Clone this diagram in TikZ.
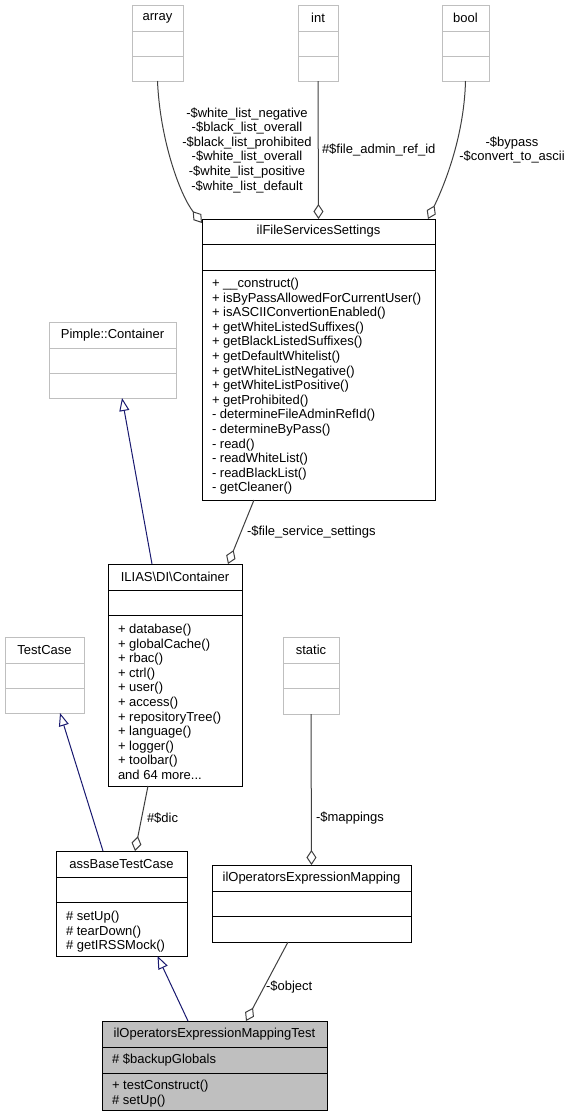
\documentclass[tikz,border=0pt]{standalone}
\usepackage{fontspec}
\setmainfont{Liberation Sans}
\usepackage{tikz}
\usetikzlibrary{arrows.meta}
\definecolor{grey75}{HTML}{BFBFBF}
\definecolor{grey25}{HTML}{404040}
\definecolor{midnightblue}{HTML}{191970}
\tikzset{%
  uml/.style = {
    x=1bp, y=-1bp, line width=1bp,
    font=\fontsize{13bp}{14.6bp}\selectfont,
    every node/.style = {inner sep=0pt, outer sep=0pt},
    cls/.style = {draw=black, rectangle, anchor=north west},
    extcls/.style = {cls, draw=grey75},
    curcls/.style = {cls, fill=grey75},
    members/.style = {anchor=north west, align=left},
    lbl/.style = {align=center},
    inherit/.style = {draw=midnightblue, -{Triangle[open, length=13bp, width=10bp]}},
    aggr/.style = {draw=grey25, -{Diamond[open, length=15bp, width=10bp]}}
  }
}

\begin{document}
\begin{tikzpicture}[uml]
\path[use as bounding box, fill=white] (0,0) rectangle (571,1117);

\node[extcls, minimum width=51bp, minimum height=76bp] (array) at (132,5) {};
\node (arrayname) at ([yshift=-13bp]array.north) {array};
\node[extcls, minimum width=40bp, minimum height=76bp] (int) at (298,5) {};
\node (intname) at ([yshift=-13bp]int.north) {int};
\node[extcls, minimum width=47bp, minimum height=76bp] (bool) at (442,5) {};
\node (boolname) at ([yshift=-13bp]bool.north) {bool};
\node[extcls, minimum width=127bp, minimum height=76bp] (pimple) at (49,322) {};
\node (pimplename) at ([yshift=-13bp]pimple.north) {Pimple::Container};
\node[extcls, minimum width=79bp, minimum height=76bp] (testcase) at (5,637) {};
\node (testcasename) at ([yshift=-13bp]testcase.north) {TestCase};
\node[extcls, minimum width=56bp, minimum height=77bp] (static) at (283,637) {};
\node (staticname) at ([yshift=-13bp]static.north) {static};
\foreach \n in {array, int, bool, pimple, testcase, static} {
  \draw[grey75] ([yshift=-26bp]\n.north west) -- ([yshift=-26bp]\n.north east);
  \draw[grey75] ([yshift=-51bp]\n.north west) -- ([yshift=-51bp]\n.north east);
}

\node[cls, minimum width=233bp, minimum height=281bp] (fss) at (202,219) {};
\node (fssname) at ([yshift=-12.5bp]fss.north) {ilFileServicesSettings};
\node[members] (fssops) at ([xshift=10bp, yshift=-59bp]fss.north west) {+ \_\_construct()\\
+ isByPassAllowedForCurrentUser()\\
+ isASCIIConvertionEnabled()\\
+ getWhiteListedSuffixes()\\
+ getBlackListedSuffixes()\\
+ getDefaultWhitelist()\\
+ getWhiteListNegative()\\
+ getWhiteListPositive()\\
+ getProhibited()\\
- determineFileAdminRefId()\\
- determineByPass()\\
- read()\\
- readWhiteList()\\
- readBlackList()\\
- getCleaner()};

\node[cls, minimum width=134bp, minimum height=222bp] (ilias) at (108,564) {};
\node (iliasname) at ([yshift=-13bp]ilias.north) {ILIAS\textbackslash DI\textbackslash Container};
\node[members] (iliasops) at ([xshift=10bp, yshift=-60bp]ilias.north west) {+ database()\\
+ globalCache()\\
+ rbac()\\
+ ctrl()\\
+ user()\\
+ access()\\
+ repositoryTree()\\
+ language()\\
+ logger()\\
+ toolbar()\\
and 64 more...};

\node[cls, minimum width=131bp, minimum height=105bp] (assbase) at (56,851) {};
\node (assbasename) at ([yshift=-13bp]assbase.north) {assBaseTestCase};
\node[members] (assbaseops) at ([xshift=10bp, yshift=-60bp]assbase.north west) {\# setUp()\\
\# tearDown()\\
\# getIRSSMock()};

\node[cls, minimum width=199bp, minimum height=77bp] (oem) at (212,865) {};
\node (oemname) at ([yshift=-13bp]oem.north) {ilOperatorsExpressionMapping};

\node[curcls, minimum width=225bp, minimum height=89bp] (oemtest) at (102,1021) {};
\node (oemtestname) at ([yshift=-13bp]oemtest.north) {ilOperatorsExpressionMappingTest};
\node[members] (oemtestattrs) at ([xshift=10bp, yshift=-32.5bp]oemtest.north west) {\# \$backupGlobals};
\node[members] (oemtestops) at ([xshift=10bp, yshift=-59bp]oemtest.north west) {+ testConstruct()\\
\# setUp()};

\foreach \n/\d in {fss/25, fss/51, ilias/26, ilias/51, assbase/26, assbase/51, oem/26, oem/51, oemtest/26, oemtest/52}
  \draw ([yshift=-\d bp]\n.north west) -- ([yshift=-\d bp]\n.north east);

\draw[aggr] (array.south) .. controls (160,140) and (180,195) .. ([yshift=-4bp]fss.north west);
\draw[aggr] (int.south) -- (fss.north);
\draw[aggr] (bool.south) .. controls (464,140) and (442,190) .. ([xshift=-7bp]fss.north east);
\draw[aggr] ([xshift=52bp]fss.south west) -- ([xshift=-14bp]ilias.north east);
\draw[inherit] ([xshift=44bp]ilias.north west) -- ([xshift=9.5bp]pimple.south);
\draw[aggr] ([xshift=40bp]ilias.south west) -- ([xshift=79bp]assbase.north west);
\draw[inherit] ([xshift=47bp]assbase.north west) -- ([xshift=15.5bp]testcase.south);
\draw[aggr] (static.south) -- (oem.north);
\draw[inherit] ([xshift=86bp]oemtest.north west) -- ([xshift=36bp]assbase.south);
\draw[aggr] ([xshift=76bp]oem.south west) -- ([xshift=144bp]oemtest.north west);

\node[lbl] (arraylbl) at (247,150) {-\$white\_list\_negative\\
-\$black\_list\_overall\\
-\$black\_list\_prohibited\\
-\$white\_list\_overall\\
-\$white\_list\_positive\\
-\$white\_list\_default};
\node[anchor=west] (intlbl) at (322,150) {\#\$file\_admin\_ref\_id};
\node[lbl] (boollbl) at (512,150) {-\$bypass\\
-\$convert\_to\_ascii};
\node[anchor=west] (fsslbl) at (247,532) {-\$file\_service\_settings};
\node[anchor=west] (diclbl) at (147,818) {\#\$dic};
\node[anchor=west] (mappingslbl) at (316,818) {-\$mappings};
\node[anchor=west] (objectlbl) at (266,987) {-\$object};
\end{tikzpicture}
\end{document}
